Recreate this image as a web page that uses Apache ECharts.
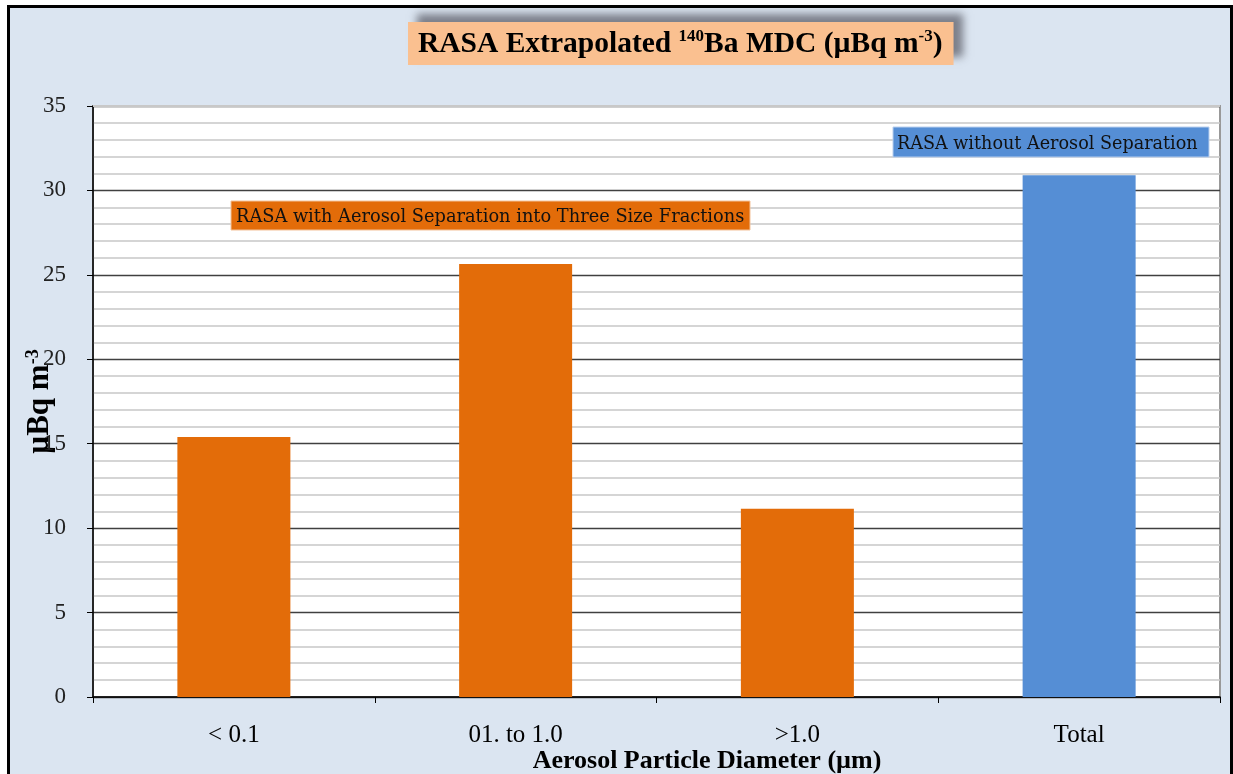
<!DOCTYPE html>
<html lang="en">
<head>
<meta charset="UTF-8">
<title>RASA 140Ba MDC</title>
<script src="https://cdn.jsdelivr.net/npm/echarts@6/dist/echarts.min.js"></script>
<style>
    body { margin: 0; background: #fff; overflow: hidden; }
    #frame { position: absolute; left: 7px; top: 5px; width: 1220px; height: 800px; border: 3px solid #000; background: #dbe5f1; }
    #echart { position: absolute; left: 0; top: 0; width: 1233px; height: 774px; }
</style>
</head>
<body>
<div id="frame"></div>
<div id="echart"></div>
<script>
    // data
    const categories = ['< 0.1', '01. to 1.0', '>1.0', 'Total'];
    const mdcValues = [15.4, 25.65, 11.15, 30.9];
    const barColors = ['#e36c09', '#e36c09', '#e36c09', '#558ed5'];
    const yMin = 0, yMax = 35, yStep = 5;

    const serif = 'Liberation Serif';

    const chart = echarts.init(document.getElementById('echart'));

    chart.setOption({
        backgroundColor: 'transparent',
        animation: false,
        title: {
            text: '{a|RASA Extrapolated }{s|140}{a|Ba MDC (µBq m}{s|-3}{a|)}',
            left: 408,
            top: 22,
            backgroundColor: '#fac090',
            padding: [6, 11, 6, 10],
            shadowBlur: 8,
            shadowColor: 'rgba(60,60,70,0.6)',
            shadowOffsetX: 9,
            shadowOffsetY: -8,
            textStyle: {
                rich: {
                    a: { fontFamily: serif, fontWeight: 'bold', fontSize: 29.5, color: '#000', lineHeight: 32 },
                    s: { fontFamily: serif, fontWeight: 'bold', fontSize: 17, color: '#000', verticalAlign: 'top', lineHeight: 32, padding: [0, 0, 10, 0] }
                }
            }
        },
        grid: {
            left: 93, right: 13, top: 106, bottom: 77,
            outerBoundsMode: 'none',
            containLabel: false,
            show: true,
            backgroundColor: '#fff',
            borderColor: '#999',
            borderWidth: 2
        },
        xAxis: {
            type: 'category',
            data: categories,
            axisLine: { lineStyle: { color: '#000', width: 1.5 } },
            axisTick: { show: true, length: 6, interval: 0, lineStyle: { color: '#000' } },
            axisLabel: { fontFamily: serif, fontSize: 25, color: '#000', margin: 26 }
        },
        yAxis: {
            type: 'value',
            min: yMin, max: yMax, interval: yStep,
            name: '{a|µBq m}{s|-3}',
            nameLocation: 'middle',
            nameRotate: 90,
            nameGap: 37,
            nameMoveOverlap: false,
            nameTextStyle: {
                rich: {
                    a: { fontFamily: serif, fontWeight: 'bold', fontSize: 31, color: '#000', lineHeight: 32 },
                    s: { fontFamily: serif, fontWeight: 'bold', fontSize: 18, color: '#000', verticalAlign: 'top', lineHeight: 32, padding: [0, 0, 11, 0] }
                }
            },
            axisLine: { show: true, lineStyle: { color: '#000', width: 1.5 } },
            axisTick: { show: true, length: 6, lineStyle: { color: '#000' } },
            axisLabel: { fontFamily: serif, fontSize: 23, color: '#222', margin: 27 },
            splitLine: { lineStyle: { color: '#404040', width: 1.3 } },
            minorTick: { show: false, splitNumber: 5 },
            minorSplitLine: { show: true, lineStyle: { color: '#c8c8c8', width: 1.5 } }
        },
        series: [{
            type: 'bar',
            barWidth: 113,
            data: mdcValues.map((v, i) => ({ value: v, itemStyle: { color: barColors[i] } })),
            markLine: {
                silent: true,
                symbol: 'none',
                label: { show: false },
                lineStyle: { color: '#c8c8c8', type: 'solid', width: 2 },
                data: [{ yAxis: yMax }]
            }
        }],
        graphic: [
            {
                type: 'group',
                z: 100,
                children: [
                    { type: 'rect', z: 100, shape: { x: 231, y: 201, width: 519, height: 29 }, style: { fill: '#e36c09', stroke: '#f3c29a', lineWidth: 1 } },
                    { type: 'text', z: 101, x: 236, y: 217, style: { text: 'RASA with Aerosol Separation into Three Size Fractions', font: '17.8px "DejaVu Serif"', fill: '#111', verticalAlign: 'middle' } }
                ]
            },
            {
                type: 'group',
                z: 100,
                children: [
                    { type: 'rect', z: 100, shape: { x: 893, y: 127, width: 316, height: 30 }, style: { fill: '#558ed5', stroke: '#b9cfee', lineWidth: 1 } },
                    { type: 'text', z: 101, x: 897, y: 144, style: { text: 'RASA without Aerosol Separation', font: '17.6px "DejaVu Serif"', fill: '#111', verticalAlign: 'middle' } }
                ]
            },
            {
                type: 'text', z: 100, x: 707, y: 761,
                style: { text: 'Aerosol Particle Diameter (µm)', font: 'bold 26px "Liberation Serif"', fill: '#000', align: 'center', verticalAlign: 'middle' }
            }
        ]
    });
</script>
</body>
</html>
